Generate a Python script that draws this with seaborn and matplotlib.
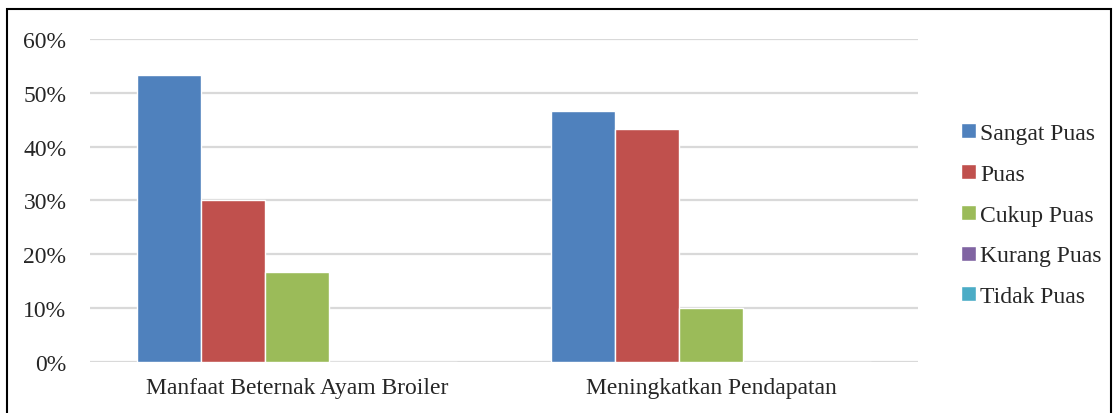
import seaborn as sns
import numpy as np
import pandas as pd
import matplotlib.pyplot as plt
from matplotlib.patches import Rectangle

categories = ["Manfaat Beternak Ayam Broiler", "Meningkatkan Pendapatan"]
levels = ["Sangat Puas", "Puas", "Cukup Puas", "Kurang Puas", "Tidak Puas"]
manfaat = [53.3, 30.0, 16.7, 0.0, 0.0]
pendapatan = [46.7, 43.3, 10.0, 0.0, 0.0]
colors = ["#4F81BD", "#C0504D", "#9BBB59", "#8064A2", "#4BACC6"]

df = pd.DataFrame({
    "kategori": [categories[0]] * 5 + [categories[1]] * 5,
    "tingkat": levels + levels,
    "persen": manfaat + pendapatan,
})

sns.set_style("white")
plt.rcParams["font.family"] = ["Liberation Serif", "DejaVu Serif"]

fig = plt.figure(figsize=(11.18, 4.14), dpi=100)
ax = fig.add_axes([0.0805, 0.1232, 0.8211 - 0.0805, 0.9034 - 0.1232])

sns.barplot(data=df, x="kategori", y="persen", hue="tingkat", hue_order=levels,
            palette=colors, width=0.773, saturation=1, ax=ax, legend=True)

ax.set_ylim(0, 60)
ax.set_yticks(np.arange(0, 61, 10))
ax.set_yticklabels([f"{v}%" for v in range(0, 61, 10)], fontsize=17)
ax.tick_params(axis="x", labelsize=17, length=0, pad=11)
ax.tick_params(axis="y", length=0, pad=17)
ax.set_xlabel("")
ax.set_ylabel("")
ax.grid(axis="y", color="#D9D9D9", linewidth=1.6)
ax.set_axisbelow(True)
for s in ax.spines.values():
    s.set_visible(False)

handles, labels = ax.get_legend_handles_labels()
ax.legend(handles, labels, loc="center left", bbox_to_anchor=(0.841, 0.478),
          bbox_transform=fig.transFigure, frameon=False, fontsize=17,
          handlelength=0.6, handleheight=0.6, handletextpad=0.2, labelspacing=0.84)

fig.patches.append(Rectangle((7 / 1118, -0.01), 1104 / 1118, 1 - 10 / 414 + 0.01,
                             transform=fig.transFigure, fill=False,
                             edgecolor="black", linewidth=1.5))

fig.savefig("out.png", dpi=100)
